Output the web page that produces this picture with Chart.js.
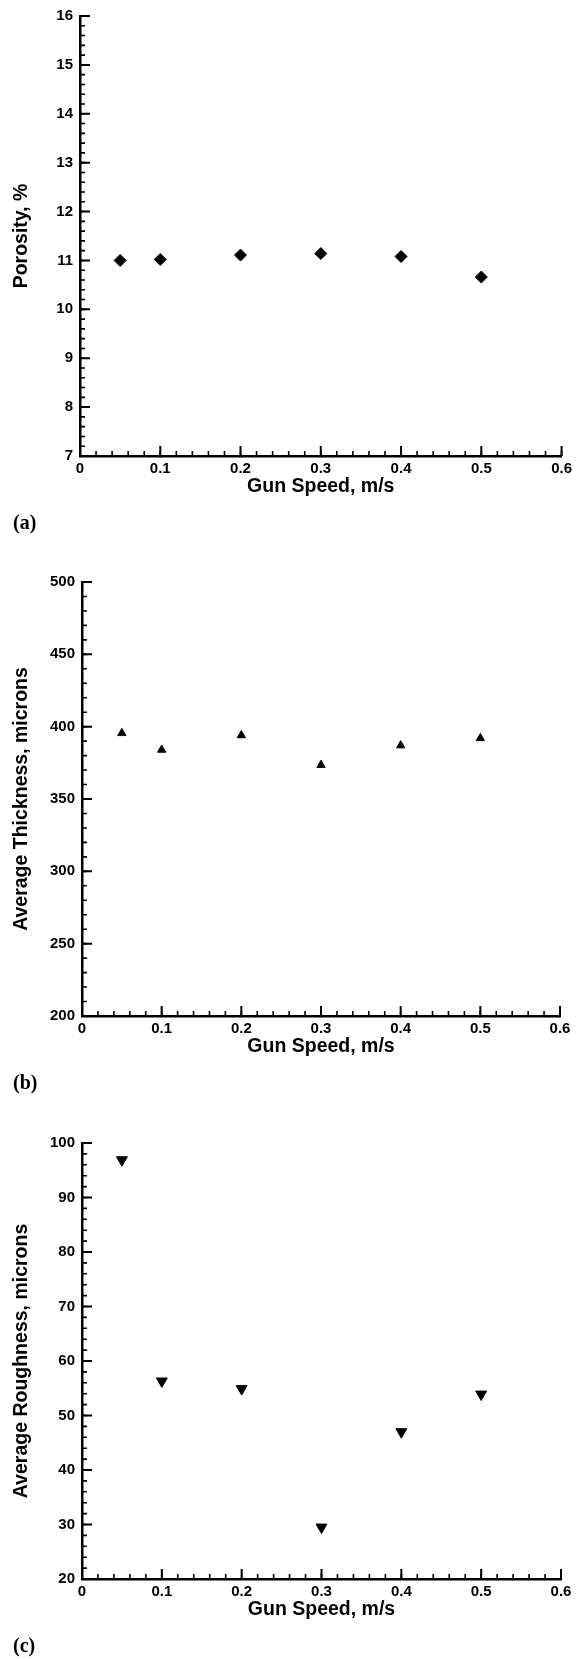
<!DOCTYPE html>
<html><head><meta charset="utf-8">
<script src="https://cdn.jsdelivr.net/npm/chart.js@4/dist/chart.umd.min.js"></script>
<style>
html,body{margin:0;padding:0;background:#fff;overflow:hidden;}
#wrap{position:relative;width:576px;height:1659px;background:#fff;}
canvas{position:absolute;left:0;}
.lbl{position:absolute;left:13px;font:bold 20px "Liberation Serif","Times New Roman",serif;line-height:20px;color:#000;}
</style></head><body>
<div id="wrap">
<canvas id="ca" width="576" height="560" style="top:0px;width:576px;height:560px"></canvas>
<canvas id="cb" width="576" height="560" style="top:560px;width:576px;height:560px"></canvas>
<canvas id="cc" width="576" height="539" style="top:1120px;width:576px;height:539px"></canvas>
<div class="lbl" style="top:512px">(a)</div>
<div class="lbl" style="top:1072px">(b)</div>
<div class="lbl" style="top:1635px">(c)</div>
</div>
<script>
// ---- data ----
const gunSpeed = [0.05, 0.1, 0.2, 0.3, 0.4, 0.5];
const porosity = [11.0, 11.02, 11.11, 11.14, 11.08, 10.66];
const thickness = [395.5, 384, 394, 373.5, 387, 392];
const roughness = [96.9, 56.3, 54.9, 29.5, 47.0, 53.9];

const xTicks = [0, 0.1, 0.2, 0.3, 0.4, 0.5, 0.6];
const xTickLabels = ['0', '0.1', '0.2', '0.3', '0.4', '0.5', '0.6'];
const xMinorStep = 0.02;

const porosityTicks = [7, 8, 9, 10, 11, 12, 13, 14, 15, 16];
const porosityMinorStep = 0.2;
const thicknessTicks = [200, 250, 300, 350, 400, 450, 500];
const thicknessMinorStep = 10;
const roughnessTicks = [20, 30, 40, 50, 60, 70, 80, 90, 100];
const roughnessMinorStep = 2;

const xTitle = 'Gun Speed, m/s';
const yTitles = ['Porosity, %', 'Average Thickness, microns', 'Average Roughness, microns'];

// ---- drawing ----
Chart.defaults.font.family = '"Liberation Sans", Arial, Helvetica, sans-serif';
Chart.defaults.color = '#000';

function minorValues(ticks, step) {
  const out = [];
  const lo = ticks[0], hi = ticks[ticks.length - 1];
  const n = Math.round((hi - lo) / step);
  for (let i = 0; i <= n; i++) out.push(lo + i * step);
  return out;
}

const inwardTicks = {
  id: 'inwardTicks',
  afterDraw(chart, args, opts) {
    const {ctx, chartArea} = chart;
    const xs = chart.scales.x, ys = chart.scales.y;
    ctx.save();
    ctx.strokeStyle = '#000';
    ctx.lineWidth = 1.6;
    ctx.beginPath();
    minorValues(xTicks, xMinorStep).forEach(v => {
      const p = xs.getPixelForValue(v);
      ctx.moveTo(p, chartArea.bottom); ctx.lineTo(p, chartArea.bottom - 5);
    });
    minorValues(opts.yTicks, opts.yMinor).forEach(v => {
      const p = ys.getPixelForValue(v);
      ctx.moveTo(chartArea.left, p); ctx.lineTo(chartArea.left + 5, p);
    });
    ctx.stroke();
    ctx.lineWidth = 2;
    ctx.beginPath();
    xTicks.forEach(v => {
      const p = xs.getPixelForValue(v);
      ctx.moveTo(p, chartArea.bottom); ctx.lineTo(p, chartArea.bottom - 10);
    });
    opts.yTicks.forEach(v => {
      const p = ys.getPixelForValue(v);
      ctx.moveTo(chartArea.left, p); ctx.lineTo(chartArea.left + 10, p);
    });
    ctx.stroke();
    ctx.restore();
  }
};

function makePanel(id, values, yTicks, yMinor, yTitle, style, radius, rotation, L) {
  new Chart(document.getElementById(id), {
    type: 'scatter',
    data: {
      datasets: [{
        data: gunSpeed.map((x, i) => ({x: x, y: values[i]})),
        pointStyle: style,
        pointRadius: radius,
        pointRotation: rotation,
        backgroundColor: '#000',
        borderColor: '#000',
        borderWidth: 1
      }]
    },
    options: {
      responsive: false,
      animation: false,
      events: [],
      layout: {padding: {top: L.top, right: 576 - L.right, left: 0, bottom: 0}},
      plugins: {
        legend: {display: false},
        tooltip: {enabled: false},
        inwardTicks: {yTicks: yTicks, yMinor: yMinor}
      },
      scales: {
        x: {
          type: 'linear',
          min: xTicks[0], max: xTicks[xTicks.length - 1],
          afterBuildTicks: s => { s.ticks = xTicks.map(v => ({value: v})); },
          afterFit: s => { s.height = L.h - L.bottom; },
          ticks: {
            callback: (v, i) => xTickLabels[i],
            font: {size: 15, weight: 'bold'}, color: '#000',
            padding: 4, maxRotation: 0, autoSkip: false
          },
          grid: {display: false, drawTicks: false},
          border: {display: true, color: '#000', width: 2.5},
          title: {display: true, text: xTitle, color: '#000',
                  font: {size: 19.5, weight: 'bold'},
                  padding: {top: 0, bottom: L.xtb}}
        },
        y: {
          type: 'linear',
          min: yTicks[0], max: yTicks[yTicks.length - 1],
          afterBuildTicks: s => { s.ticks = yTicks.map(v => ({value: v})); },
          afterFit: s => { s.width = L.left; },
          ticks: {
            callback: (v, i) => String(yTicks[i]),
            font: {size: 15, weight: 'bold'}, color: '#000',
            padding: 7, autoSkip: false
          },
          grid: {display: false, drawTicks: false},
          border: {display: true, color: '#000', width: 2.5},
          title: {display: true, text: yTitle, color: '#000',
                  font: {size: 19.5, weight: 'bold'},
                  padding: {top: 10.3, bottom: 0}}
        }
      }
    },
    plugins: [inwardTicks]
  });
}

makePanel('ca', porosity, porosityTicks, porosityMinorStep, yTitles[0], 'rectRot', 6, 0,
  {top: 15, bottom: 456, left: 80, right: 563, h: 560, xtb: 61.3});
makePanel('cb', thickness, thicknessTicks, thicknessMinorStep, yTitles[1], 'triangle', 4.8, 0,
  {top: 22, bottom: 456, left: 82, right: 560, h: 560, xtb: 61.3});
makePanel('cc', roughness, roughnessTicks, roughnessMinorStep, yTitles[2], 'triangle', 6.3, 180,
  {top: 23, bottom: 459, left: 82, right: 561, h: 539, xtb: 37.3});
</script>
</body></html>
